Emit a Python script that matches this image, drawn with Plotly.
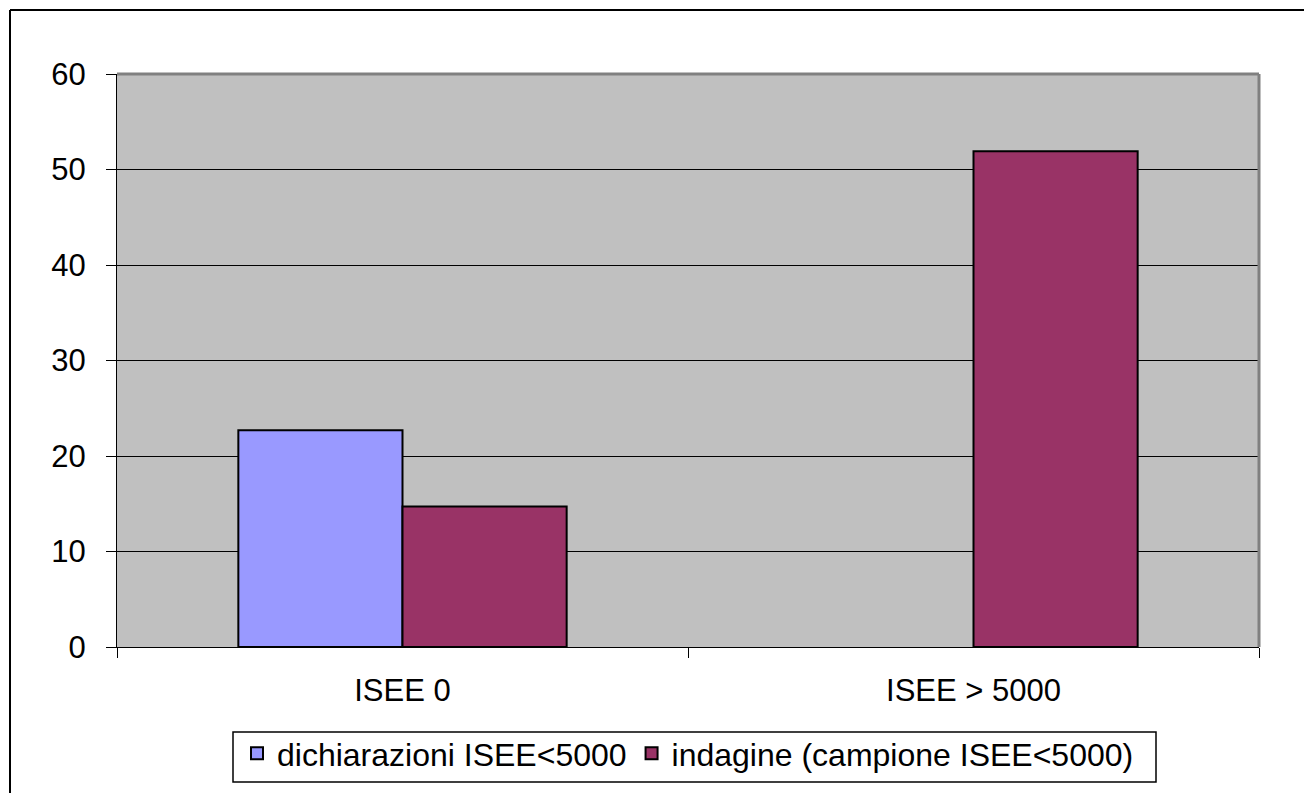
import plotly.graph_objects as go

categories = ["ISEE 0", "ISEE > 5000"]
dichiarazioni = [22.7, None]
indagine = [14.7, 51.9]
y_ticks = [0, 10, 20, 30, 40, 50, 60]

FONT = "Liberation Sans, Arial, sans-serif"
FS = 31

fig = go.Figure()
fig.add_trace(go.Bar(
    x=categories, y=dichiarazioni, name="dichiarazioni ISEE<5000",
    marker=dict(color="#9999FF", line=dict(color="#000000", width=2)),
))
fig.add_trace(go.Bar(
    x=categories, y=indagine, name="indagine (campione ISEE<5000)",
    marker=dict(color="#993366", line=dict(color="#000000", width=2)),
))

W, H = 1304, 793
L, R, T, B = 117, 45, 74, 146
pw, ph = W - L - R, H - T - B


def px(x):
    return (x - L) / pw


def py(y):
    return (H - B - y) / ph


fig.update_layout(
    width=W, height=H,
    margin=dict(l=L, r=R, t=T, b=B, pad=0),
    paper_bgcolor="white",
    plot_bgcolor="#C0C0C0",
    barmode="group",
    bargap=0.425,
    bargroupgap=0,
    font=dict(family=FONT, size=FS, color="black"),
    showlegend=True,
    legend=dict(
        orientation="h",
        xref="container", yref="container",
        x=(L + pw / 2) / W, xanchor="center",
        y=1 - 726 / H, yanchor="top",
        borderwidth=0,
        bgcolor="rgba(0,0,0,0)",
        font=dict(family=FONT, size=32, color="black"),
        itemsizing="constant",
        tracegroupgap=0,
    ),
    xaxis=dict(
        showgrid=False,
        ticks="outside", ticklen=10, tickcolor="black", tickwidth=1,
        tickson="boundaries",
        showline=True, linecolor="black", linewidth=1,
        tickfont=dict(family=FONT, size=FS),
        ticklabelstandoff=16,
        automargin=False,
    ),
    yaxis=dict(
        range=[0, 60], tickvals=y_ticks,
        showgrid=True, gridcolor="black", gridwidth=1,
        ticks="outside", ticklen=10, tickcolor="black", tickwidth=1,
        showline=True, linecolor="black", linewidth=1,
        tickfont=dict(family=FONT, size=FS),
        ticklabelstandoff=14,
        zeroline=False,
        automargin=False,
    ),
    shapes=[
        # gray frame along the top and right of the plotting area
        dict(type="line", xref="paper", yref="paper", x0=0, x1=1, y0=1, y1=1,
             line=dict(color="#808080", width=3), layer="above"),
        dict(type="line", xref="paper", yref="paper", x0=1, x1=1, y0=0, y1=1,
             line=dict(color="#808080", width=3), layer="above"),
        # outer chart frame
        dict(type="line", xref="paper", yref="paper",
             x0=px(10), x1=px(1304), y0=py(10), y1=py(10),
             line=dict(color="black", width=2)),
        dict(type="line", xref="paper", yref="paper",
             x0=px(10), x1=px(10), y0=py(10), y1=py(800),
             line=dict(color="black", width=2)),
        # legend box
        dict(type="rect", xref="paper", yref="paper",
             x0=px(233), x1=px(1156), y0=py(732), y1=py(782),
             line=dict(color="black", width=1.5), fillcolor="white",
             layer="below"),
    ],
)

fig.write_html("out.html")
